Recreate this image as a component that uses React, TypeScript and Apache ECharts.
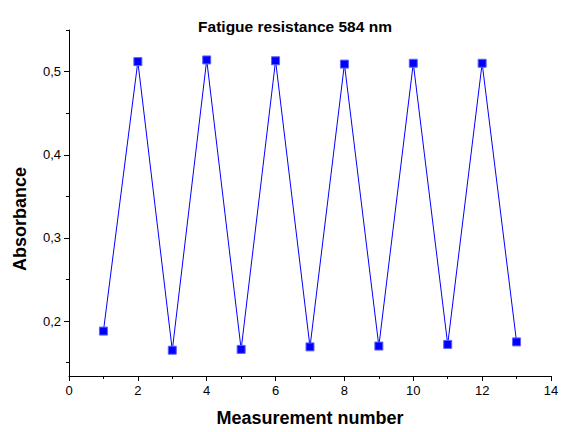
import React, { useEffect, useRef } from "react";
import * as echarts from "echarts";

const measurementNumbers = [1, 2, 3, 4, 5, 6, 7, 8, 9, 10, 11, 12, 13];
const absorbance = [0.188, 0.512, 0.165, 0.514, 0.166, 0.513, 0.169, 0.509, 0.170, 0.510, 0.172, 0.510, 0.175];
const yMajorTicks = [0.2, 0.3, 0.4, 0.5];
const yMinorTicks = [0.15, 0.25, 0.35, 0.45, 0.55];

const FONT = "Liberation Sans, Arial, sans-serif";

export default function App() {
  const ref = useRef<HTMLDivElement>(null);
  useEffect(() => {
    if (!ref.current) return;
    const chart = echarts.init(ref.current, null, { renderer: "svg" });
    const data = measurementNumbers.map((x, i) => [x, absorbance[i]]);
    chart.setOption({
      animation: false,
      backgroundColor: "#ffffff",
      title: {
        text: "Fatigue resistance 584 nm",
        left: 290,
        top: 13,
        textAlign: "center",
        textStyle: { fontFamily: FONT, fontSize: 15.5, fontWeight: "bold", color: "#000" },
      },
      grid: { left: 69, right: 15, top: 30, bottom: 51, containLabel: false },
      xAxis: {
        type: "value",
        min: 0,
        max: 14,
        interval: 2,
        name: "Measurement number",
        nameLocation: "middle",
        nameGap: 33,
        nameTextStyle: { fontFamily: FONT, fontSize: 18, fontWeight: "bold", color: "#000" },
        axisLine: { show: true, onZero: false, lineStyle: { color: "#000", width: 1 } },
        axisTick: { show: true, inside: false, length: 5, lineStyle: { color: "#000" } },
        minorTick: { show: true, splitNumber: 2, length: 3, lineStyle: { color: "#000" } },
        axisLabel: { fontFamily: FONT, fontSize: 13, color: "#000", margin: 8 },
        splitLine: { show: false },
      },
      yAxis: [
        {
          type: "value",
          min: 0.134,
          max: 0.55,
          axisLine: { show: true, lineStyle: { color: "#000", width: 1 } },
          axisTick: { show: true, length: 5, customValues: yMajorTicks, lineStyle: { color: "#000" } },
          axisLabel: {
            customValues: yMajorTicks,
            fontFamily: FONT,
            fontSize: 13,
            color: "#000",
            margin: 8,
            formatter: (v: number) => v.toFixed(1).replace(".", ","),
          },
          splitLine: { show: false },
        },
        {
          type: "value",
          min: 0.134,
          max: 0.55,
          position: "left",
          axisLine: { show: false },
          axisTick: { show: true, length: 3, customValues: yMinorTicks, lineStyle: { color: "#000" } },
          axisLabel: { show: false },
          splitLine: { show: false },
        },
      ],
      graphic: [
        {
          type: "text",
          x: 20,
          y: 219,
          rotation: Math.PI / 2,
          style: {
            text: "Absorbance",
            fontFamily: FONT,
            fontSize: 18,
            fontWeight: "bold",
            fill: "#000",
            align: "center",
            verticalAlign: "middle",
          },
        },
      ],
      series: [
        {
          type: "line",
          data,
          yAxisIndex: 0,
          symbol: "rect",
          symbolSize: 8,
          showAllSymbol: true,
          lineStyle: { color: "#0000ff", width: 1 },
          itemStyle: { color: "#0000ff", borderColor: "#6060ff", borderWidth: 1 },
        },
      ],
    });
    return () => chart.dispose();
  }, []);
  return <div ref={ref} style={{ width: 566, height: 432, position: "absolute", left: 0, top: 0 }} />;
}
